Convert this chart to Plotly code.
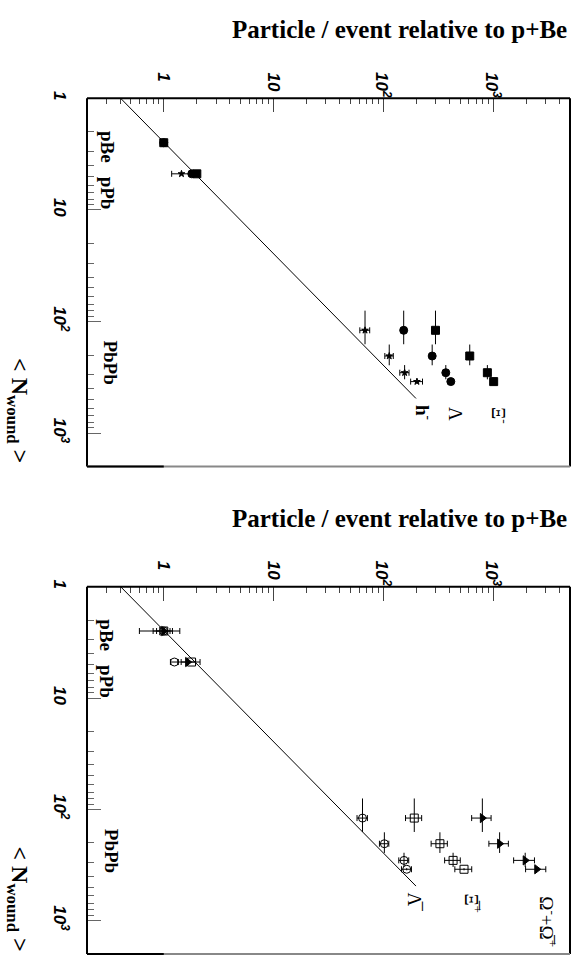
import plotly.graph_objects as go
import numpy as np

# ---------------- data ----------------
systems = ["pBe", "pPb", "PbPb"]
nwound = [2.5, 4.75, 120, 204, 288, 346]
nwound_err = [0, 0, 40, 43, 42, 8]

# top panel
hminus_ratio = [1.0, 1.45, 68, 113, 156, 202]
hminus_err = [0.0, 0.27, 7, 10, 15, 25]
lambda_ratio = [1.0, 1.8, 153, 278, 370, 411]
lambda_err = [0.05, 0.1, 8, 14, 18, 20]
xim_ratio = [1.0, 2.0, 298, 611, 884, 1009]
xim_err = [0.05, 0.1, 15, 30, 45, 50]

# bottom panel
alambda_ratio = [1.0, 1.25, 64.5, 102, 154, 163]
alambda_err = [0.14, 0.1, 7, 10, 16, 17]
axip_ratio = [1.0, 1.79, 191, 327, 431, 542]
axip_err = [0.2, 0.35, 32, 55, 70, 95]
omega_ratio = [1.0, 1.65, 796, 1143, 1954, 2490]
omega_err = [0.4, 0.3, 160, 230, 420, 520]

# wounded-nucleon scaling line
scaling_nwound = [1.0, 490.0]
scaling_ratio = [0.405, 198.0]

major_vals = [1, 10, 100, 1000]
major_text = ["1", "10", "10<sup>2</sup>", "10<sup>3</sup>"]
x_minor = [m * d for d in [0.1, 1, 10, 100, 1000] for m in range(2, 10) if 0.2 <= m * d <= 5000]
y_minor = [m * d for d in [1, 10, 100, 1000] for m in range(2, 10) if m * d <= 2000]

X_RANGE = [np.log10(0.2), np.log10(5000)]
Y_RANGE = [np.log10(2000), 0]

W, H = 574, 958
def px(x): return x / W
def py(y): return 1 - y / H

fig = go.Figure()

def add_series(xa, ya, ratio, err, symbol, size, name, color="black", line_w=1):
    fig.add_trace(go.Scatter(
        x=ratio, y=nwound, mode="markers", name=name, xaxis=xa, yaxis=ya,
        marker=dict(symbol=symbol, size=size, color=color,
                    line=dict(color="black", width=line_w)),
        error_x=dict(type="data", array=err, color="black", thickness=1, width=3),
        error_y=dict(type="data", array=nwound_err, color="black", thickness=1, width=0),
        showlegend=False, cliponaxis=False))

for xa, ya in [("x", "y"), ("x2", "y2")]:
    fig.add_trace(go.Scatter(x=scaling_ratio, y=scaling_nwound, mode="lines",
                             xaxis=xa, yaxis=ya, line=dict(color="black", width=1),
                             showlegend=False))

add_series("x", "y", hminus_ratio, hminus_err, "star", 5, "h-")
add_series("x", "y", lambda_ratio, lambda_err, "circle", 8, "Lambda")
add_series("x", "y", xim_ratio, xim_err, "square", 8, "Xi-")

add_series("x2", "y2", omega_ratio, omega_err, "triangle-right", 8, "Omega")
add_series("x2", "y2", alambda_ratio, alambda_err, "circle-open", 8, "antiLambda")
add_series("x2", "y2", axip_ratio, axip_err, "square-open", 8, "antiXi+")

tickfont = dict(family="Liberation Sans", size=17, color="black", weight="bold", style="italic")

def xaxis_cfg(domain_anchor):
    return dict(type="log", range=X_RANGE, side="top", anchor=domain_anchor,
                domain=[px(87), px(570)],
                tickmode="array", tickvals=major_vals, ticktext=major_text,
                showticklabels=False,
                ticks="inside", ticklen=14, tickwidth=1, tickcolor="#444",
                minor=dict(tickmode="array", tickvals=x_minor, ticks="inside",
                           ticklen=6, tickwidth=1, tickcolor="#444", showgrid=False),
                showgrid=False, zeroline=False, showline=False)

def yaxis_cfg(anchor, dom):
    return dict(type="log", range=Y_RANGE, anchor=anchor, domain=dom,
                tickmode="array", tickvals=major_vals, ticktext=major_text,
                tickangle=90, ticks="inside", ticklen=14, tickwidth=1, tickcolor="#666",
                minor=dict(tickmode="array", tickvals=y_minor, ticks="inside",
                           ticklen=7, tickwidth=1, tickcolor="#666", showgrid=False),
                showgrid=False, zeroline=False, showline=False, tickfont=tickfont,
                ticklabelstandoff=15)

shapes = []
for xr, yr, xa in [("x domain", "y domain", "x"), ("x2 domain", "y2 domain", "x2")]:
    for (x0, y0, x1, y1) in [(0, 1, 1, 1), (0, 0, 0, 1), (1, 0, 1, 1)]:
        shapes.append(dict(type="line", xref=xr, yref=yr, x0=x0, y0=y0, x1=x1, y1=y1,
                           line=dict(color="black", width=2), layer="above"))
    shapes.append(dict(type="line", xref=xr, yref=yr, x0=0, y0=0, x1=1, y1=0,
                       line=dict(color="#888", width=2), layer="above"))
    shapes.append(dict(type="line", xref=xa, yref=yr, x0=0.2, y0=0, x1=1, y1=0,
                       line=dict(color="black", width=2), layer="above"))

serif_b = dict(family="Liberation Serif", size=25, color="black", weight="bold")
serif_lbl = dict(family="Liberation Serif", size=19, color="black", weight="bold")
serif_reg = dict(family="Liberation Serif", size=19, color="black")

annotations = []
def ann(text, x, y, font, angle=90, xanchor="center", yanchor="middle", xref="paper"):
    annotations.append(dict(text=text, x=(px(x) if xref == "paper" else x), y=py(y),
                            xref=xref, yref="paper",
                            showarrow=False, textangle=angle, font=font,
                            xanchor=xanchor, yanchor=yanchor))

for off, xa in [(0, "x"), (492, "x2")]:
    ann("Particle / event relative to p+Be", 569, 23 + off, serif_b, angle=0, xanchor="right")
    ann("&lt; N<sub>wound</sub> &gt;", 18, 406 + off,
        dict(family="Liberation Serif", size=24, color="black", weight="bold"))
    ann("pBe", 107, 141 + off, serif_lbl)
    ann("pPb", 107, 187 + off, serif_lbl)
    ann("PbPb", 111, 358 + off, serif_lbl)
    for v, t in zip(major_vals, major_text):
        ann(t, np.log10(v), 64 + off, tickfont, yanchor="top", xref=xa)

ann("h<sup>-</sup>", 424, 408, serif_lbl)
ann("Λ", 456, 410, serif_reg)
ann("Ξ<sup>-</sup>", 500, 412, serif_reg)
ann("Λ\u0305", 415, 901, serif_reg)
ann("Ξ\u0305<sup>+</sup>", 473, 903, serif_reg)
ann("Ω<sup>-</sup>+Ω\u0305<sup>+</sup>", 548, 921, serif_reg)

fig.update_layout(
    width=W, height=H, margin=dict(l=0, r=0, t=0, b=0),
    paper_bgcolor="white", plot_bgcolor="white",
    xaxis=xaxis_cfg("y"), yaxis=yaxis_cfg("x", [py(463), py(92)]),
    xaxis2=xaxis_cfg("y2"), yaxis2=yaxis_cfg("x2", [py(954), py(584)]),
    shapes=shapes, annotations=annotations, showlegend=False,
)

fig.write_html("out.html")
